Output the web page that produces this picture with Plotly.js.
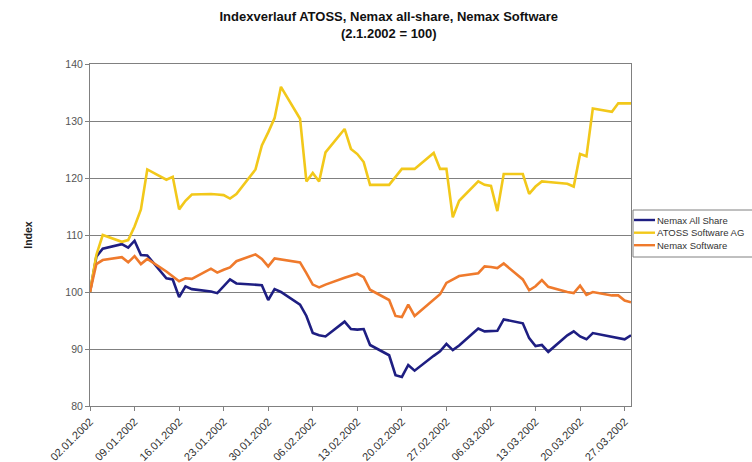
<!DOCTYPE html>
<html>
<head>
<meta charset="utf-8">
<script src="https://cdn.plot.ly/plotly-3.0.1.min.js"></script>
<style>
html,body{margin:0;padding:0;background:#fff;}
#chart{width:752px;height:462px;}
</style>
</head>
<body>
<div id="chart"></div>
<script>
const dates = [
"2002-01-02","2002-01-03","2002-01-04","2002-01-07","2002-01-08","2002-01-09","2002-01-10","2002-01-11",
"2002-01-14","2002-01-15","2002-01-16","2002-01-17","2002-01-18","2002-01-21","2002-01-22","2002-01-23",
"2002-01-24","2002-01-25","2002-01-28","2002-01-29","2002-01-30","2002-01-31","2002-02-01","2002-02-04",
"2002-02-05","2002-02-06","2002-02-07","2002-02-08","2002-02-11","2002-02-12","2002-02-13","2002-02-14",
"2002-02-15","2002-02-18","2002-02-19","2002-02-20","2002-02-21","2002-02-22","2002-02-25","2002-02-26",
"2002-02-27","2002-02-28","2002-03-01","2002-03-04","2002-03-05","2002-03-06","2002-03-07","2002-03-08",
"2002-03-11","2002-03-12","2002-03-13","2002-03-14","2002-03-15","2002-03-18","2002-03-19","2002-03-20",
"2002-03-21","2002-03-22","2002-03-25","2002-03-26","2002-03-27","2002-03-28"];

const nemaxAllShare = [
100,106.2,107.6,108.4,107.8,109.0,106.5,106.4,
102.4,102.2,99.1,101.0,100.5,100.1,99.8,101.0,
102.2,101.5,101.3,101.2,98.6,100.5,100.0,97.8,
95.8,92.8,92.4,92.2,94.8,93.5,93.4,93.5,
90.7,88.9,85.4,85.1,87.2,86.2,88.8,89.6,
90.9,89.8,90.6,93.6,93.1,93.1,93.2,95.2,
94.5,91.9,90.5,90.7,89.5,92.4,93.1,92.2,
91.7,92.8,92.1,91.9,91.7,92.4];

const atoss = [
100,106.5,110.0,108.8,109.1,111.5,114.5,121.5,
119.7,120.2,114.5,116.0,117.1,117.2,117.1,117.0,
116.4,117.2,121.5,125.7,128.0,130.5,136.0,130.4,
119.4,120.9,119.4,124.5,128.6,125.1,124.2,122.8,
118.8,118.8,120.2,121.6,121.6,121.6,124.4,121.6,
121.6,113.1,116.0,119.4,118.8,118.6,114.2,120.7,
120.7,117.2,118.5,119.4,119.3,119.0,118.5,124.2,
123.8,132.2,131.6,133.1,133.1,133.1];

const nemaxSoftware = [
100,104.9,105.6,106.1,105.2,106.3,104.9,105.8,
103.6,102.7,101.9,102.4,102.3,104.1,103.4,103.9,
104.3,105.4,106.6,105.8,104.5,105.9,105.7,105.2,
103.3,101.3,100.8,101.3,102.5,102.8,103.2,102.6,
100.4,98.6,95.8,95.6,97.8,95.8,98.6,99.6,
101.6,102.2,102.8,103.3,104.5,104.4,104.2,105.0,
102.2,100.3,101.0,102.1,100.9,100.0,99.8,101.1,
99.5,100.0,99.4,99.4,98.5,98.2];

const tickDates = ["2002-01-02","2002-01-09","2002-01-16","2002-01-23","2002-01-30","2002-02-06",
"2002-02-13","2002-02-20","2002-02-27","2002-03-06","2002-03-13","2002-03-20","2002-03-27"];
const tickLabels = ["02.01.2002","09.01.2002","16.01.2002","23.01.2002","30.01.2002","06.02.2002",
"13.02.2002","20.02.2002","27.02.2002","06.03.2002","13.03.2002","20.03.2002","27.03.2002"];

const seriesNames = ["Nemax All Share","ATOSS Software AG","Nemax Software"];
const seriesColors = ["#1e1e82","#f2c81a","#ef7a2c"];
const seriesData = [nemaxAllShare, atoss, nemaxSoftware];

const FONT = "Liberation Sans, Arial, sans-serif";

// plot area geometry (pixels)
const M = {l: 90, r: 121, t: 64, b: 56};
const W = 752, H = 462;
const PW = W - M.l - M.r, PH = H - M.t - M.b;
const px = x => (x - M.l) / PW;
const py = y => (H - M.b - y) / PH;

const traces = seriesData.map((vals, i) => ({
  type: "scatter",
  mode: "lines",
  x: dates,
  y: vals,
  name: seriesNames[i],
  line: {color: seriesColors[i], width: 2.6},
  showlegend: false
}));

// manual legend (box, line samples, labels)
const legendRows = [220, 232.7, 245.2];
const shapes = [{
  type: "rect", xref: "paper", yref: "paper",
  x0: px(633), x1: px(790), y0: py(257), y1: py(210),
  line: {color: "#808080", width: 1}, fillcolor: "#ffffff", layer: "above"
}];
const annotations = [];
seriesNames.forEach((nm, i) => {
  shapes.push({
    type: "line", xref: "paper", yref: "paper",
    x0: px(634), x1: px(655), y0: py(legendRows[i]), y1: py(legendRows[i]),
    line: {color: seriesColors[i], width: 2.4}, layer: "above"
  });
  annotations.push({
    xref: "paper", yref: "paper", x: px(655), y: py(legendRows[i]),
    xanchor: "left", yanchor: "middle", showarrow: false,
    text: nm, font: {family: FONT, size: 9.5, color: "#333"}
  });
});

const layout = {
  width: W,
  height: H,
  margin: M,
  paper_bgcolor: "#ffffff",
  plot_bgcolor: "#ffffff",
  font: {family: FONT, size: 10, color: "#222"},
  title: {
    text: "<b>Indexverlauf ATOSS, Nemax all-share, Nemax Software<br>(2.1.2002 = 100)</b>",
    font: {family: FONT, size: 13, color: "#111"},
    x: 0.517, xref: "container", xanchor: "center",
    y: 0.954, yref: "container", yanchor: "top"
  },
  xaxis: {
    type: "date",
    range: ["2002-01-02", "2002-03-28"],
    tickmode: "array",
    tickvals: tickDates,
    ticktext: tickLabels,
    tickangle: -45,
    ticks: "outside",
    ticklen: 4,
    tickcolor: "#808080",
    showgrid: false,
    showline: true,
    linecolor: "#808080",
    linewidth: 1,
    mirror: true,
    zeroline: false,
    automargin: false,
    tickfont: {family: FONT, size: 11, color: "#333"}
  },
  yaxis: {
    range: [80, 140],
    tickmode: "linear",
    tick0: 80,
    dtick: 10,
    ticks: "outside",
    ticklen: 4,
    tickcolor: "#808080",
    showgrid: true,
    gridcolor: "#808080",
    gridwidth: 1,
    showline: true,
    linecolor: "#808080",
    linewidth: 1,
    mirror: true,
    zeroline: false,
    automargin: false,
    tickfont: {family: FONT, size: 10.5, color: "#555"},
    title: {text: "<b>Index</b>", font: {family: FONT, size: 10.5, color: "#222"}, standoff: 30}
  },
  showlegend: false,
  shapes: shapes,
  annotations: annotations
};

Plotly.newPlot("chart", traces, layout, {displayModeBar: false, staticPlot: true});
</script>
</body>
</html>
